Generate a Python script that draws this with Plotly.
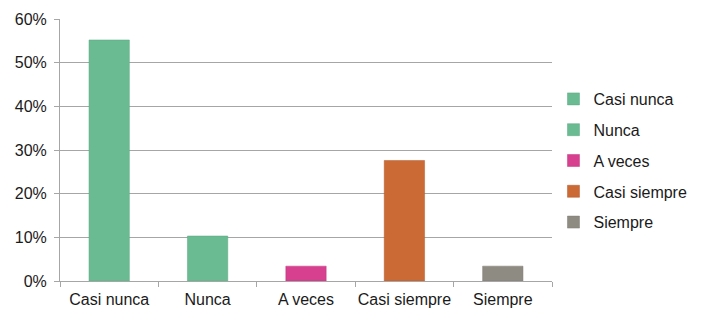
import plotly.graph_objects as go

categories = ["Casi nunca", "Nunca", "A veces", "Casi siempre", "Siempre"]
values = [0.552, 0.103, 0.034, 0.276, 0.034]
colors = ["#6bbb92", "#6bbb92", "#d6408e", "#cc6a36", "#8e8b83"]
line_colors = ["#5aa882", "#5aa882", "#c23680", "#b05a30", "#7e7b74"]

fig = go.Figure()
for i, (cat, val) in enumerate(zip(categories, values)):
    fig.add_trace(go.Bar(
        x=[cat], y=[val], name=cat, legendgroup=f"g{i}",
        marker=dict(color=colors[i], line=dict(color=line_colors[i], width=0.5)),
        width=0.41,
    ))

fig.update_layout(
    width=704, height=318,
    margin=dict(l=52, r=160, t=11, b=45),
    paper_bgcolor="white", plot_bgcolor="white",
    barmode="overlay",
    font=dict(family="Liberation Sans, Arial, sans-serif", size=16, color="#1a1a1a"),
    showlegend=True,
    legend=dict(x=1.003, xanchor="left", y=0.46, yanchor="middle",
                font=dict(size=16), tracegroupgap=7, itemwidth=30,
                bgcolor="rgba(0,0,0,0)"),
    xaxis=dict(categoryorder="array", categoryarray=categories,
               showline=True, linecolor="#a6a6a6", linewidth=1,
               ticks="outside", tickson="boundaries", ticklen=5, tickcolor="#a6a6a6",
               tickangle=0, automargin=False, ticklabelstandoff=4,
               showgrid=False, zeroline=False),
    yaxis=dict(range=[0, 0.6], dtick=0.1, tickformat=".0%",
               showline=True, linecolor="#a6a6a6", linewidth=1,
               ticks="outside", ticklen=5, tickcolor="#a6a6a6", automargin=False,
               ticklabelstandoff=4,
               showgrid=True, gridcolor="#a6a6a6", gridwidth=1, zeroline=False),
)

fig.write_html("out.html")
